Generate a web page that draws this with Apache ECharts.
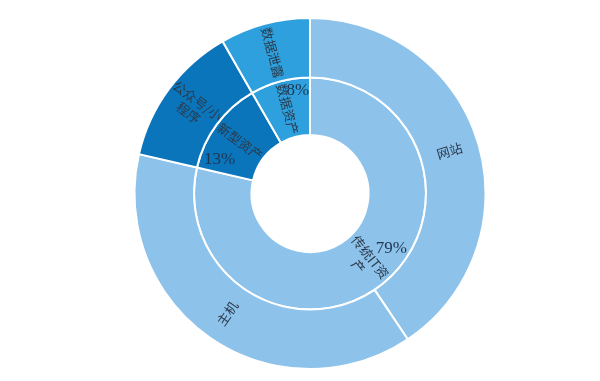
<!DOCTYPE html>
<html><head><meta charset="utf-8">
<script src="https://cdn.jsdelivr.net/npm/echarts@6/dist/echarts.min.js"></script>
<style>html,body{margin:0;padding:0;background:#fff}#c{width:600px;height:381px}</style>
</head><body><div id="c"></div><script>
// Data
const innerNames = ['传统IT资产', '新型资产', '数据资产'];
const outerNames = [['网站', '主机'], ['公众号/小程序'], ['数据泄露']];
const outerValues = [[406, 380], [131], [83]];
// Styling
const colors = ['#8DC2EA', '#0A75BB', '#2EA0DD'];
const pctOffsets = [[25, -16], [-18, 20], [11, -16]];
const C = [310, 193.5];

const innerValues = outerValues.map(a => a.reduce((s, v) => s + v, 0));

const sunData = innerNames.map((n, i) => ({
  name: n,
  itemStyle: { color: colors[i] },
  children: outerNames[i].map((cn, j) => ({
    name: cn, value: outerValues[i][j], itemStyle: { color: colors[i] }
  }))
}));

const pieData = innerNames.map((n, i) => ({
  name: n, value: innerValues[i],
  label: { offset: pctOffsets[i] }
}));

const chart = echarts.init(document.getElementById('c'), null, { renderer: 'canvas' });
chart.setOption({
  animation: false,
  series: [{
    type: 'sunburst',
    center: C,
    sort: null,
    startAngle: 90,
    nodeClick: false,
    data: sunData,
    itemStyle: { borderColor: '#fff', borderWidth: 2 },
    label: {
      rotate: 'radial', color: '#2b3a4c', fontSize: 13,
      fontFamily: 'Noto Sans CJK SC', width: 58, overflow: 'break', lineHeight: 15
    },
    emphasis: { disabled: true },
    levels: [
      {},
      { r0: 58.5, r: 116 },
      { r0: 116, r: 175.5 }
    ]
  }, {
    type: 'pie',
    center: C,
    radius: [58.5, 116],
    startAngle: 90,
    clockwise: true,
    silent: true,
    z: 5,
    itemStyle: { color: 'rgba(0,0,0,0)', borderWidth: 0 },
    label: {
      show: true, position: 'inside', rotate: 0,
      formatter: p => Math.round(p.percent) + '%',
      color: '#1f3550', fontSize: 17, fontFamily: 'Liberation Serif'
    },
    labelLine: { show: false },
    emphasis: { disabled: true },
    data: pieData
  }]
});
</script></body></html>
